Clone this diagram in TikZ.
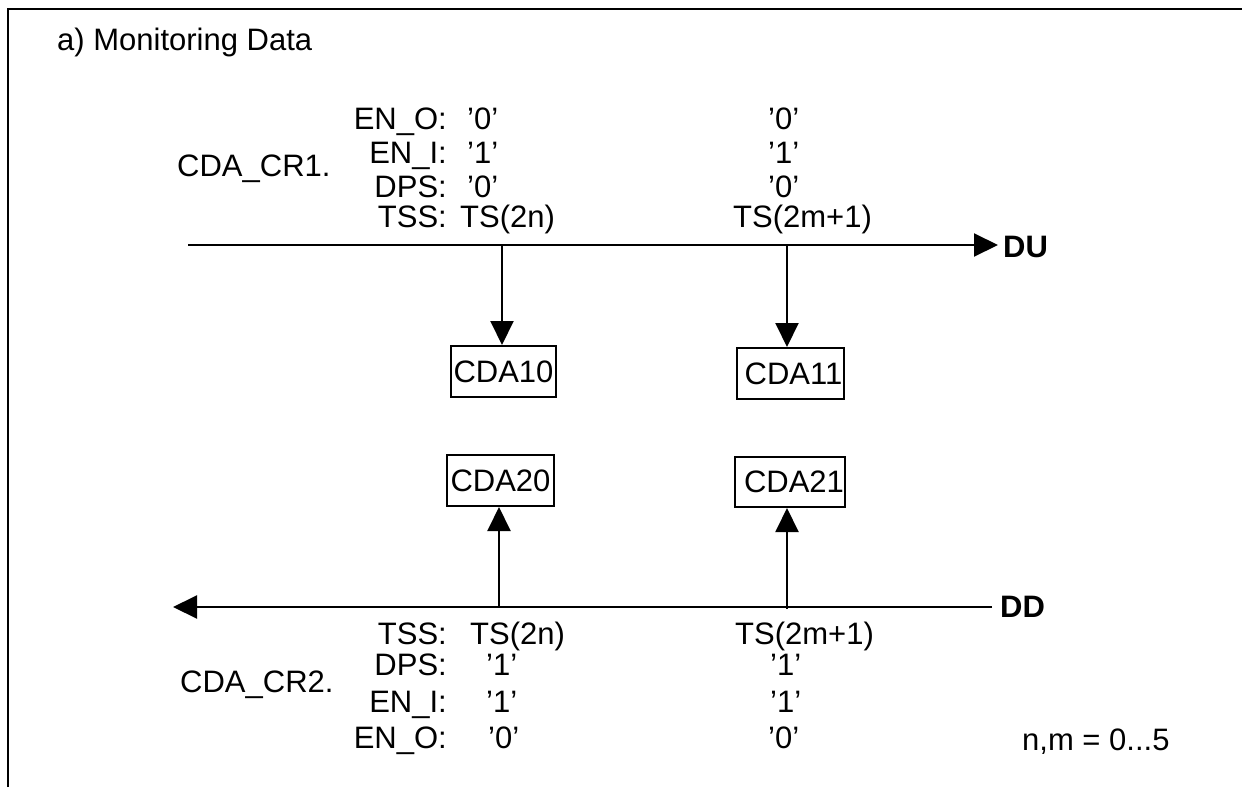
\documentclass[tikz,border=0pt]{standalone}
\usepackage{fontspec}
\setmainfont{Liberation Sans}
\usetikzlibrary{arrows.meta}
\tikzset{
  lbl/.style={inner sep=0pt, font=\fontsize{31}{37}\selectfont},
  lblb/.style={inner sep=0pt, font=\fontsize{31}{37}\selectfont\bfseries},
  box/.style={draw, line width=2pt, inner sep=0pt, font=\fontsize{31}{37}\selectfont},
  ln/.style={line width=2pt},
  arr/.style={line width=2pt, -{Triangle[length=24pt,width=23pt]}},
}
\begin{document}
\begin{tikzpicture}[x=1pt,y=-1pt]
\useasboundingbox (0,0) rectangle (1242,787);
% frame
\coordinate (fb) at (7.5,787);
\coordinate (fc) at (7.5,9);
\coordinate (fr) at (1242,9);
\draw[ln] (fb) -- (fc) -- (fr);
% title
\node[lbl, anchor=base west] (title) at (57,50) {a) Monitoring Data};
% upper labels
\node[lbl, anchor=base west] (cr1) at (177,176) {CDA\_CR1.};
\node[lbl, anchor=base east] (u1) at (447,129) {EN\_O:};
\node[lbl, anchor=base east] (u2) at (447,163) {EN\_I:};
\node[lbl, anchor=base east] (u3) at (447,197) {DPS:};
\node[lbl, anchor=base east] (u4) at (447,227) {TSS:};
\node[lbl, anchor=base west] (v1) at (467,129) {’0’};
\node[lbl, anchor=base west] (v2) at (467,163) {’1’};
\node[lbl, anchor=base west] (v3) at (467,197) {’0’};
\node[lbl, anchor=base west] (v4) at (460,227) {TS(2n)};
\node[lbl, anchor=base west] (w1) at (768,129) {’0’};
\node[lbl, anchor=base west] (w2) at (768,163) {’1’};
\node[lbl, anchor=base west] (w3) at (768,197) {’0’};
\node[lbl, anchor=base west] (w4) at (733,227) {TS(2m+1)};
% DU line
\coordinate (du0) at (188,245);
\coordinate (du1) at (998,245);
\draw[arr] (du0) -- (du1);
\node[lblb, anchor=west] (DU) at (1003,247) {DU};
% boxes
\node[box, minimum width=105pt, minimum height=51pt] (b10) at (503.5,371.5) {CDA10};
\node[box, minimum width=107pt, minimum height=51pt] (b11) at (790.5,373.5) {\hspace*{6pt}CDA11};
\node[box, minimum width=107pt, minimum height=51pt] (b20) at (500.5,480.5) {CDA20};
\node[box, minimum width=110pt, minimum height=50pt] (b21) at (790,482) {\hspace*{8pt}CDA21};
\coordinate (t1) at (502,245);
\coordinate (t2) at (787,245);
\draw[arr] (t1) -- (t1 |- b10.north);
\draw[arr] (t2) -- (t2 |- b11.north);
% DD line
\coordinate (dd0) at (992,607);
\coordinate (dd1) at (173,607);
\draw[arr] (dd0) -- (dd1);
\node[lblb, anchor=west] (DD) at (1000,607) {DD};
\coordinate (s1) at (499,607);
\coordinate (s2) at (787,609);
\draw[arr] (s1) -- (s1 |- b20.south);
\draw[arr] (s2) -- (s2 |- b21.south);
% lower labels
\node[lbl, anchor=base west] (cr2) at (180,692) {CDA\_CR2.};
\node[lbl, anchor=base east] (l1) at (447,644) {TSS:};
\node[lbl, anchor=base east] (l2) at (447,675) {DPS:};
\node[lbl, anchor=base east] (l3) at (447,712) {EN\_I:};
\node[lbl, anchor=base east] (l4) at (447,748) {EN\_O:};
\node[lbl, anchor=base west] (x1) at (470,644) {TS(2n)};
\node[lbl, anchor=base west] (x2) at (486,675) {’1’};
\node[lbl, anchor=base west] (x3) at (486,712) {’1’};
\node[lbl, anchor=base west] (x4) at (488,748) {’0’};
\node[lbl, anchor=base west] (y1) at (735,644) {TS(2m+1)};
\node[lbl, anchor=base west] (y2) at (770,675) {’1’};
\node[lbl, anchor=base west] (y3) at (770,712) {’1’};
\node[lbl, anchor=base west] (y4) at (768,748) {’0’};
\node[lbl, anchor=base west] (nm) at (1022,750) {n,m = 0...5};
\end{tikzpicture}
\end{document}
